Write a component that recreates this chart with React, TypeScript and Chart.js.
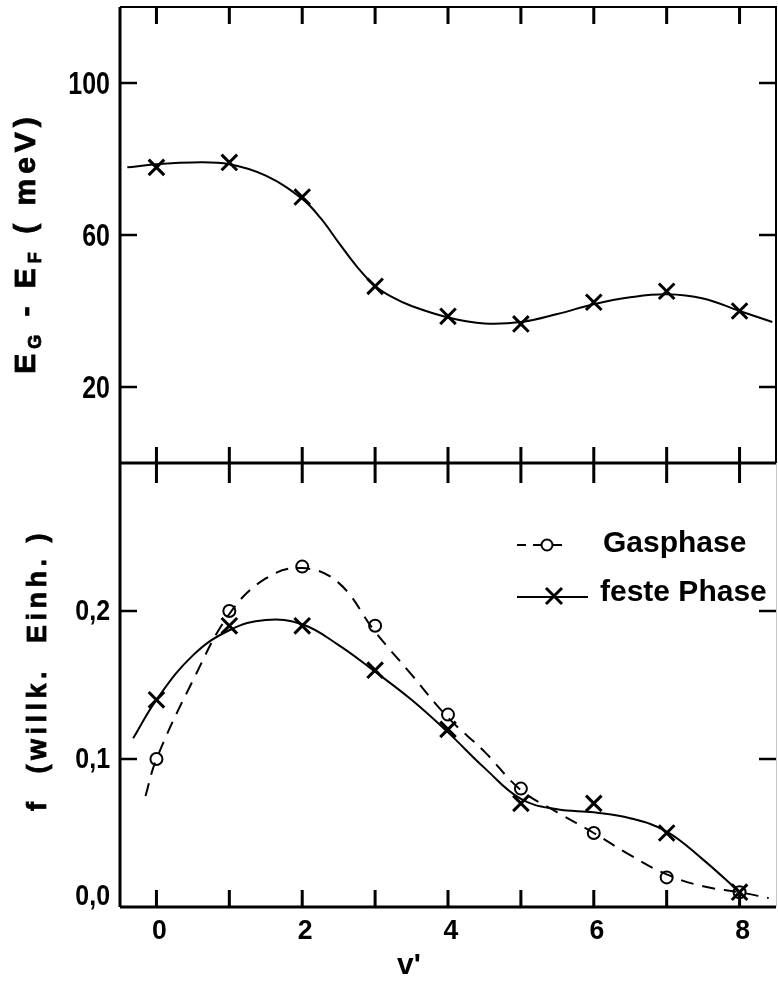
import React, { useEffect, useRef } from 'react';
import { Chart, registerables } from 'chart.js';

Chart.register(...registerables);

// vibrational level v'
const levels = [0, 1, 2, 3, 4, 5, 6, 7, 8];

// upper panel: E_G - E_F (meV), solid phase
const gapEnergy = [77.8, 79.1, 70, 46.5, 38.6, 36.6, 42.3, 45.2, 40];
// smooth guide curve through the upper panel
const gapFitV = [-0.4, 0, 0.5, 1, 1.5, 2, 2.25, 2.5, 2.75, 3, 3.25, 3.5, 4, 4.5, 5, 5.5, 6, 6.5, 7, 7.5, 8, 8.45];
const gapFitE = [77.8, 78.6, 79.1, 78.6, 75.6, 69.5, 64.5, 58, 51.7, 46.6, 43.5, 41.3, 38.3, 36.7, 37.1, 39.2, 41.8, 43.6, 44.4, 43.3, 40, 37.1];

// lower panel: f (arbitrary units)
const gasPhase = [0.1, 0.2, 0.23, 0.19, 0.13, 0.08, 0.05, 0.02, 0.01];
const solidPhase = [0.14, 0.19, 0.19, 0.16, 0.12, 0.07, 0.07, 0.05, 0.01];
const gasFitV = [-0.15, 0, 0.5, 1, 1.5, 2, 2.5, 3, 3.5, 4, 4.5, 5, 5.5, 6, 6.5, 7, 7.5, 8, 8.4];
const gasFitF = [0.075, 0.1, 0.153, 0.198, 0.222, 0.229, 0.219, 0.186, 0.157, 0.128, 0.105, 0.079, 0.064, 0.05, 0.035, 0.022, 0.014, 0.01, 0.006];
const solidFitV = [-0.32, 0, 0.5, 1, 1.5, 2, 2.5, 3, 3.5, 4, 4.5, 5, 5.5, 6, 6.5, 7, 7.5, 8];
const solidFitF = [0.114, 0.14, 0.17, 0.187, 0.194, 0.191, 0.177, 0.159, 0.14, 0.118, 0.094, 0.073, 0.066, 0.064, 0.06, 0.051, 0.032, 0.01];

// tick values
const topTicks = [20, 60, 100];
const bottomTicks = [0, 0.1, 0.2];
const xTicks = levels;

const seriesNames = ['Gasphase', 'feste Phase'];

const SANS = "'Liberation Sans', Arial, sans-serif";

const pts = (xs: number[], ys: number[]) => xs.map((x, i) => ({ x, y: ys[i] }));

type Piece = { text: string; size: number; dy?: number };

function drawVerticalTitle(ctx: CanvasRenderingContext2D, baseX: number, centerY: number, pieces: Piece[], spacing: number) {
  ctx.save();
  ctx.translate(baseX, centerY);
  ctx.rotate(-Math.PI / 2);
  ctx.textAlign = 'left';
  ctx.textBaseline = 'alphabetic';
  ctx.fillStyle = '#000';
  ctx.strokeStyle = '#000';
  ctx.lineWidth = 0.8;
  (ctx as any).letterSpacing = spacing + 'px';
  let total = 0;
  for (const p of pieces) {
    ctx.font = `bold ${p.size}px ${SANS}`;
    total += ctx.measureText(p.text).width;
  }
  let u = -total / 2;
  for (const p of pieces) {
    ctx.font = `bold ${p.size}px ${SANS}`;
    ctx.fillText(p.text, u, p.dy || 0);
    ctx.strokeText(p.text, u, p.dy || 0);
    u += ctx.measureText(p.text).width;
  }
  ctx.restore();
}

// tick labels in a condensed setting
function drawLabel(ctx: CanvasRenderingContext2D, text: string, x: number, y: number, size: number, sx: number, align: CanvasTextAlign) {
  ctx.save();
  ctx.translate(x, y);
  ctx.scale(sx, 1);
  ctx.font = `bold ${size}px ${SANS}`;
  ctx.textAlign = align;
  ctx.textBaseline = 'middle';
  ctx.fillStyle = '#000';
  ctx.fillText(text, 0, 0);
  ctx.restore();
}

const framePlugin = {
  id: 'frameAndLabels',
  afterDraw(chart: any) {
    const { ctx, chartArea: a, scales } = chart;
    const xs = scales.x;
    const yT = scales.yTop;
    const yB = scales.yBot;
    const mid = yT.bottom;
    ctx.save();
    ctx.strokeStyle = '#000';
    ctx.lineCap = 'butt';

    // panel frames
    ctx.lineWidth = 3;
    ctx.beginPath();
    ctx.moveTo(a.left, a.bottom);
    ctx.lineTo(a.left, a.top);
    ctx.moveTo(a.left, mid);
    ctx.lineTo(a.right, mid);
    ctx.moveTo(a.left, a.bottom);
    ctx.lineTo(a.right, a.bottom);
    ctx.stroke();
    ctx.lineWidth = 2;
    ctx.beginPath();
    ctx.moveTo(a.left, a.top);
    ctx.lineTo(a.right, a.top);
    ctx.lineTo(a.right, mid);
    ctx.stroke();
    ctx.strokeStyle = '#c8c8c8';
    ctx.lineWidth = 1;
    ctx.beginPath();
    ctx.moveTo(a.right + 0.5, mid);
    ctx.lineTo(a.right + 0.5, a.bottom);
    ctx.stroke();
    ctx.strokeStyle = '#000';

    // x ticks: top edge, middle divider (crossing), bottom edge
    ctx.lineWidth = 3;
    ctx.beginPath();
    for (const v of xTicks) {
      const px = xs.getPixelForValue(v);
      ctx.moveTo(px, a.top);
      ctx.lineTo(px, a.top + 17);
      ctx.moveTo(px, mid - 16);
      ctx.lineTo(px, mid + 20);
      ctx.moveTo(px, a.bottom);
      ctx.lineTo(px, a.bottom - 17);
    }
    ctx.stroke();

    // y ticks, both sides
    ctx.lineWidth = 2.5;
    ctx.beginPath();
    for (const v of topTicks) {
      const py = yT.getPixelForValue(v);
      ctx.moveTo(a.left, py);
      ctx.lineTo(a.left + 17, py);
      ctx.moveTo(a.right, py);
      ctx.lineTo(a.right - 17, py);
    }
    for (const v of bottomTicks) {
      if (v === 0) continue;
      const py = yB.getPixelForValue(v);
      ctx.moveTo(a.left, py);
      ctx.lineTo(a.left + 17, py);
      ctx.moveTo(a.right, py);
      ctx.lineTo(a.right - 17, py);
    }
    ctx.stroke();

    // tick labels
    for (const v of topTicks) {
      drawLabel(ctx, String(v), a.left - 10, yT.getPixelForValue(v) + 2, 32, 0.78, 'right');
    }
    for (const v of bottomTicks) {
      const py = Math.min(yB.getPixelForValue(v) + 1, a.bottom - 10);
      drawLabel(ctx, v.toFixed(1).replace('.', ','), a.left - 10, py, 29, 0.86, 'right');
    }
    for (const v of xTicks) {
      if (v % 2 !== 0) continue;
      drawLabel(ctx, String(v), xs.getPixelForValue(v) + 3, a.bottom + 24, 28, 0.95, 'center');
    }

    // axis titles
    drawVerticalTitle(ctx, 35, 243, [
      { text: 'E', size: 30 },
      { text: 'G', size: 18, dy: 6 },
      { text: ' - ', size: 30 },
      { text: 'E', size: 30 },
      { text: 'F', size: 18, dy: 6 },
      { text: ' ( meV)', size: 30 },
    ], 5);
    drawVerticalTitle(ctx, 46, 670, [{ text: 'f  (willk.  Einh. )', size: 27 }], 4.5);

    ctx.fillStyle = '#000';
    ctx.font = `bold 30px ${SANS}`;
    ctx.textAlign = 'center';
    ctx.textBaseline = 'middle';
    ctx.fillText("v'", 409, 966);

    // legend
    ctx.lineWidth = 2;
    ctx.setLineDash([9, 7]);
    ctx.beginPath();
    ctx.moveTo(517, 545);
    ctx.lineTo(541, 545);
    ctx.moveTo(553, 545);
    ctx.lineTo(568, 545);
    ctx.stroke();
    ctx.setLineDash([]);
    ctx.beginPath();
    ctx.arc(547, 545, 5.5, 0, Math.PI * 2);
    ctx.stroke();

    ctx.beginPath();
    ctx.moveTo(517, 597);
    ctx.lineTo(588, 597);
    ctx.stroke();
    ctx.lineWidth = 3;
    ctx.beginPath();
    ctx.moveTo(546, 588);
    ctx.lineTo(562, 604);
    ctx.moveTo(562, 588);
    ctx.lineTo(546, 604);
    ctx.stroke();

    ctx.font = `bold 30px ${SANS}`;
    ctx.textAlign = 'left';
    ctx.textBaseline = 'alphabetic';
    ctx.fillText(seriesNames[0], 603, 552);
    ctx.fillText(seriesNames[1], 600, 601);
    ctx.restore();
  },
};

const zeroPadding = (s: any) => {
  s.paddingTop = 0;
  s.paddingBottom = 0;
  s.paddingLeft = 0;
  s.paddingRight = 0;
};

export default function App() {
  const canvasRef = useRef<HTMLCanvasElement | null>(null);

  useEffect(() => {
    const canvas = canvasRef.current;
    if (!canvas) return;

    const marker = {
      showLine: false,
      borderColor: '#000',
      backgroundColor: 'rgba(0,0,0,0)',
    };
    const curve = {
      showLine: true,
      pointRadius: 0,
      borderColor: '#000',
      borderWidth: 2,
      tension: 0.4,
      fill: false,
    };

    const chart = new Chart(canvas, {
      type: 'scatter',
      data: {
        datasets: [
          { ...marker, label: 'E_G - E_F', data: pts(levels, gapEnergy), yAxisID: 'yTop', pointStyle: 'crossRot', pointRadius: 11, borderWidth: 3 },
          { ...marker, label: seriesNames[1], data: pts(levels, solidPhase), yAxisID: 'yBot', pointStyle: 'crossRot', pointRadius: 11, borderWidth: 3 },
          { ...marker, label: seriesNames[0], data: pts(levels, gasPhase), yAxisID: 'yBot', pointStyle: 'circle', pointRadius: 6, borderWidth: 2 },
          { ...curve, label: 'fit top', data: pts(gapFitV, gapFitE), yAxisID: 'yTop' },
          { ...curve, label: 'fit solid', data: pts(solidFitV, solidFitF), yAxisID: 'yBot' },
          { ...curve, label: 'fit gas', data: pts(gasFitV, gasFitF), yAxisID: 'yBot', borderDash: [13, 9] },
        ],
      },
      options: {
        responsive: false,
        animation: false,
        devicePixelRatio: 1,
        layout: { autoPadding: false, padding: { top: 7, right: 2, left: 0, bottom: 0 } },
        plugins: { legend: { display: false }, tooltip: { enabled: false } },
        scales: {
          x: {
            type: 'linear',
            min: -0.5,
            max: 8.5,
            grid: { display: false, drawTicks: false },
            border: { display: false },
            afterBuildTicks: (s: any) => { s.ticks = xTicks.map((v) => ({ value: v })); },
            afterFit: (s: any) => { s.height = 92; zeroPadding(s); },
            ticks: { display: false },
          },
          yBot: {
            type: 'linear',
            position: 'left',
            stack: 'panels',
            stackWeight: 444,
            min: 0,
            max: 0.3,
            grid: { display: false, drawTicks: false },
            border: { display: false },
            afterBuildTicks: (s: any) => { s.ticks = bottomTicks.map((v) => ({ value: v })); },
            afterFit: (s: any) => { s.width = 120; zeroPadding(s); },
            ticks: { display: false },
          },
          yTop: {
            type: 'linear',
            position: 'left',
            stack: 'panels',
            stackWeight: 456,
            min: 0,
            max: 120,
            grid: { display: false, drawTicks: false },
            border: { display: false },
            afterBuildTicks: (s: any) => { s.ticks = topTicks.map((v) => ({ value: v })); },
            afterFit: (s: any) => { s.width = 120; zeroPadding(s); },
            ticks: { display: false },
          },
        },
      },
      plugins: [framePlugin],
    } as any);

    return () => chart.destroy();
  }, []);

  return (
    <div style={{ position: 'absolute', left: 0, top: 0, width: 778, height: 999, background: '#fff' }}>
      <canvas ref={canvasRef} width={778} height={999} style={{ display: 'block' }} />
    </div>
  );
}
